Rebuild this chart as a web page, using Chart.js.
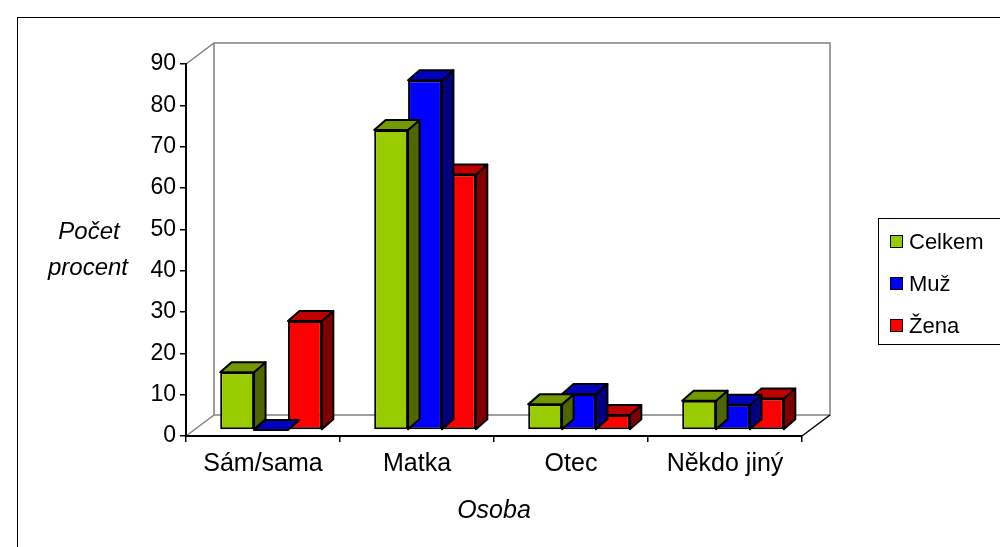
<!DOCTYPE html>
<html>
<head>
<meta charset="utf-8">
<script src="https://cdn.jsdelivr.net/npm/chart.js@4"></script>
<style>
  body { margin: 0; background: #fff; }
  #wrap { width: 1000px; height: 547px; position: relative; }
</style>
</head>
<body>
<div id="wrap"><canvas id="chart" width="1000" height="547"></canvas></div>
<script>
const categories = ['Sám/sama', 'Matka', 'Otec', 'Někdo jiný'];
const celkem = [14.0, 72.6, 6.2, 7.1];
const muz = [0, 84.6, 8.7, 6.1];
const zena = [26.4, 61.8, 3.6, 7.6];
const seriesNames = ['Celkem', 'Muž', 'Žena'];
const yTicks = [0, 10, 20, 30, 40, 50, 60, 70, 80, 90];

const FONT = '"Liberation Sans", Arial, sans-serif';

// front / top / side colours per series
const faceColors = [
  { front: '#99cc00', top: '#739900', side: '#4d6600' },
  { front: '#0000ff', top: '#0000bf', side: '#000080' },
  { front: '#ff0000', top: '#bf0000', side: '#800000' }
];

const BAR_SHIFT = { x: 8, y: -6 };   // bars sit a bit behind the front plane
const BAR_DEPTH = { x: 11.5, y: -10 };
const WALL = { x: 28, y: -21 };      // back wall offset

function poly(ctx, pts, fill) {
  ctx.beginPath();
  ctx.moveTo(pts[0][0], pts[0][1]);
  for (let i = 1; i < pts.length; i++) ctx.lineTo(pts[i][0], pts[i][1]);
  ctx.closePath();
  ctx.fillStyle = fill;
  ctx.fill();
  ctx.stroke();
}

const box3d = {
  id: 'box3d',
  beforeDraw(chart) {
    const ctx = chart.ctx;
    const a = chart.chartArea;
    ctx.save();
    // outer frame
    ctx.strokeStyle = '#000';
    ctx.lineWidth = 1;
    ctx.strokeRect(17.5, 17.5, 1000, 547);

    // back wall + floor (grey)
    ctx.strokeStyle = '#808080';
    ctx.lineWidth = 1.5;
    const bl = a.left + WALL.x, bt = a.top + WALL.y, bb = a.bottom + WALL.y, br = a.right + WALL.x;
    ctx.beginPath();
    ctx.moveTo(a.left, a.top); ctx.lineTo(bl, bt);
    ctx.lineTo(br, bt); ctx.lineTo(br, bb);
    ctx.lineTo(bl, bb); ctx.lineTo(bl, bt);
    ctx.moveTo(a.left, a.bottom); ctx.lineTo(bl, bb);
    ctx.stroke();
    // right floor edge
    ctx.strokeStyle = '#000';
    ctx.beginPath();
    ctx.moveTo(a.right, a.bottom); ctx.lineTo(br, bb);
    ctx.stroke();
    ctx.restore();
  },
  beforeDatasetDraw(chart) {
    chart.ctx.save();
    chart.ctx.translate(BAR_SHIFT.x, BAR_SHIFT.y);
  },
  afterDatasetDraw(chart, args) {
    const ctx = chart.ctx;
    const c = faceColors[args.index];
    const dx = BAR_DEPTH.x, dy = BAR_DEPTH.y;
    ctx.strokeStyle = '#000';
    ctx.lineWidth = 2;
    ctx.lineJoin = 'round';
    args.meta.data.forEach(bar => {
      const p = bar.getProps(['x', 'y', 'base', 'width'], true);
      const l = p.x - p.width / 2, r = p.x + p.width / 2;
      const t = Math.min(p.y, p.base), b = Math.max(p.y, p.base);
      if (b - t > 0.5) {
        poly(ctx, [[r, t], [r + dx, t + dy], [r + dx, b + dy], [r, b]], c.side);
      }
      poly(ctx, [[l, t], [l + dx, t + dy], [r + dx, t + dy], [r, t]], c.top);
    });
    ctx.restore();
  },
  afterDraw(chart) {
    const ctx = chart.ctx;
    const a = chart.chartArea;
    ctx.save();
    ctx.fillStyle = '#000';
    // y axis title
    ctx.font = 'italic 24px ' + FONT;
    ctx.textAlign = 'center';
    ctx.textBaseline = 'middle';
    ctx.fillText('Počet', 89, 232);
    ctx.fillText('procent', 88, 268);
    // x axis title
    ctx.font = 'italic 25px ' + FONT;
    ctx.fillText('Osoba', (a.left + a.right) / 2, 511);

    // legend
    ctx.strokeStyle = '#000';
    ctx.lineWidth = 1;
    ctx.fillStyle = '#fff';
    ctx.fillRect(878.5, 218.5, 130, 126);
    ctx.strokeRect(878.5, 218.5, 130, 126);
    ctx.font = '22px ' + FONT;
    ctx.textAlign = 'left';
    chart.data.datasets.forEach((ds, i) => {
      const cy = 242 + i * 42;
      ctx.fillStyle = ds.backgroundColor;
      ctx.fillRect(890.5, cy - 6.5, 12, 12);
      ctx.strokeRect(890.5, cy - 6.5, 12, 12);
      ctx.fillStyle = '#000';
      ctx.fillText(ds.label, 909, cy + 1);
    });
    ctx.restore();
  }
};

const seriesData = [celkem, muz, zena];

new Chart(document.getElementById('chart'), {
  type: 'bar',
  data: {
    labels: categories,
    datasets: seriesData.map((vals, i) => ({
      label: seriesNames[i],
      data: vals,
      backgroundColor: faceColors[i].front,
      borderColor: '#000',
      borderWidth: 2,
      borderSkipped: false,
      categoryPercentage: 0.66,
      barPercentage: 1,
      clip: false
    }))
  },
  options: {
    responsive: false,
    animation: false,
    events: [],
    layout: { padding: { left: 86, top: 64, right: 198, bottom: 0 } },
    plugins: {
      legend: { display: false },
      tooltip: { enabled: false }
    },
    scales: {
      x: {
        offset: true,
        afterFit: s => { s.height = 111; },
        grid: { drawOnChartArea: false, offset: true, tickLength: 6, color: '#000', lineWidth: 1.5 },
        border: { color: '#000', width: 2 },
        ticks: { color: '#000', padding: 7, font: { family: FONT, size: 25 }, maxRotation: 0 }
      },
      y: {
        min: yTicks[0],
        max: yTicks[yTicks.length - 1],
        afterFit: s => { s.width = 100; },
        afterBuildTicks: s => { s.ticks = yTicks.map(v => ({ value: v })); },
        grid: { drawOnChartArea: false, tickLength: 6, color: '#000', lineWidth: 1.5 },
        border: { color: '#000', width: 2 },
        ticks: { color: '#000', padding: 4, font: { family: FONT, size: 23 } }
      }
    }
  },
  plugins: [box3d]
});
</script>
</body>
</html>
